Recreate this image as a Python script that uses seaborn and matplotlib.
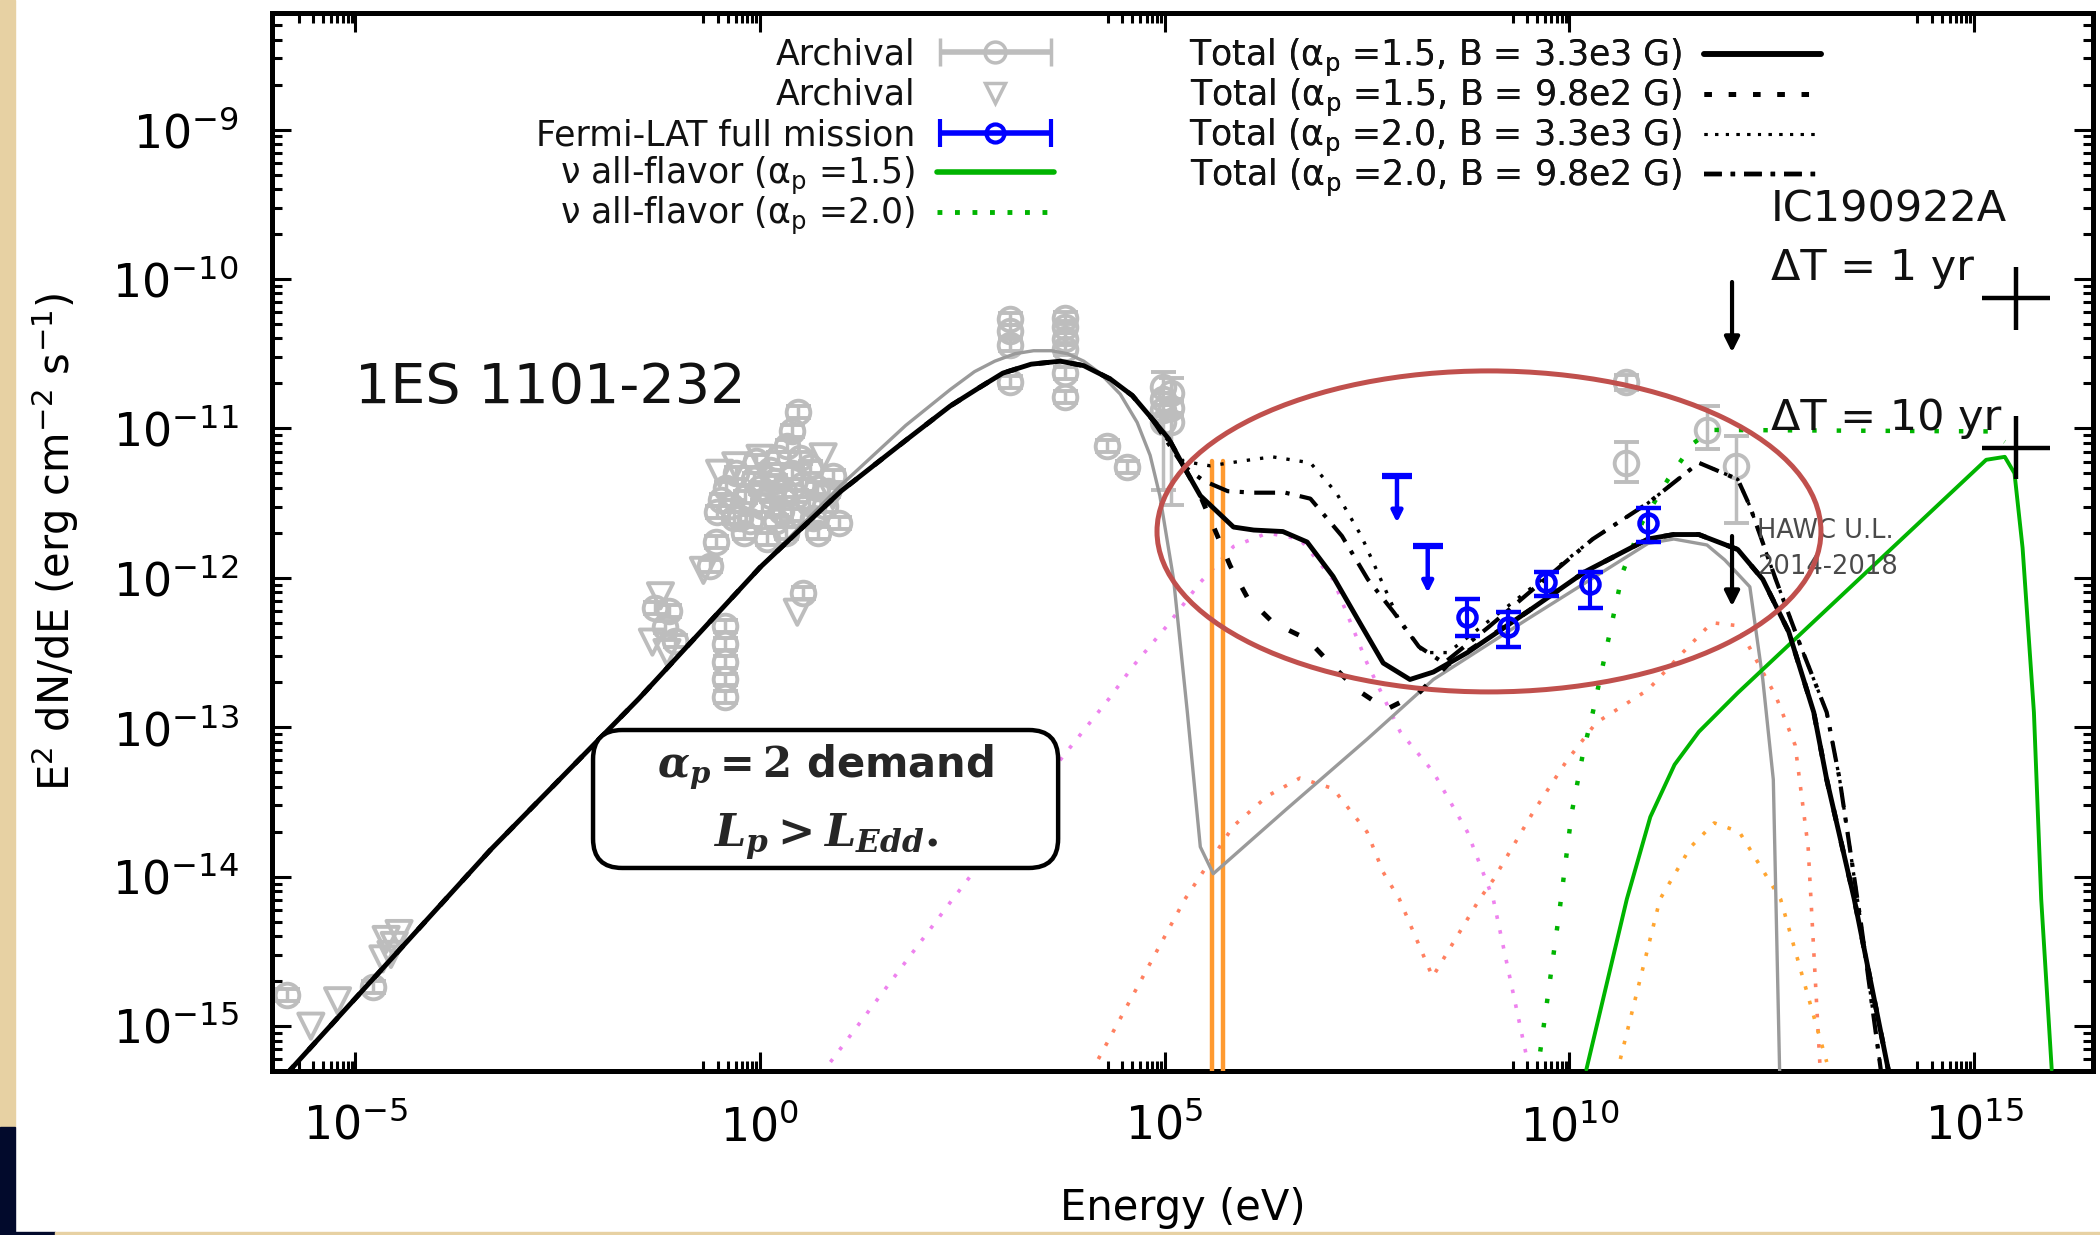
import numpy as np
import matplotlib
matplotlib.use("Agg")
import matplotlib.pyplot as plt
import seaborn as sns
from matplotlib import ticker
from matplotlib.patches import Ellipse, FancyBboxPatch, Rectangle
from matplotlib.lines import Line2D
from matplotlib.legend_handler import HandlerErrorbar
from matplotlib.container import ErrorbarContainer

# ---------------- data: log10 E [eV] and log10 E^2 dN/dE [erg cm^-2 s^-1] ----------------
tot15_B33_logE = [-5.85, -3.33, -1.5, 0.0, 1.0, 1.8, 2.35, 2.7, 3.0, 3.35, 3.71, 4.0, 4.33, 4.6, 4.82,
                  5.05, 5.23, 5.44, 5.85, 6.1, 6.46, 6.76, 7.08, 7.41, 7.70, 8.03, 8.32, 8.74, 9.5,
                  10.19, 10.97, 11.29, 11.6, 12.08, 12.39, 12.71, 13.02, 13.18, 13.52, 13.94]
tot15_B33_logF = [-15.32, -13.82, -12.81, -11.93, -11.42, -11.08, -10.85, -10.73, -10.63, -10.57, -10.55,
                  -10.58, -10.67, -10.78, -10.92, -11.07, -11.25, -11.45, -11.66, -11.68, -11.69, -11.76,
                  -11.99, -12.30, -12.57, -12.68, -12.63, -12.50, -12.22, -11.96, -11.74, -11.71, -11.71,
                  -11.81, -12.01, -12.36, -12.90, -13.35, -14.15, -15.29]

tot15_B98_logE = [-5.85, -3.33, -1.5, 0.0, 1.0, 1.8, 2.35, 2.7, 3.0, 3.35, 3.71, 4.0, 4.33, 4.6, 4.82,
                  5.05, 5.23, 5.44, 5.81, 6.02, 6.34, 6.76, 7.04, 7.38, 7.74, 8.14, 8.5, 9.5, 10.19,
                  10.97, 11.29, 11.6, 12.08, 12.39, 12.71, 13.02, 13.18, 13.52, 13.94]
tot15_B98_logF = [-15.32, -13.82, -12.81, -11.93, -11.42, -11.08, -10.85, -10.73, -10.63, -10.57, -10.55,
                  -10.58, -10.67, -10.78, -10.92, -11.07, -11.25, -11.45, -11.92, -12.13, -12.30, -12.41,
                  -12.57, -12.75, -12.88, -12.77, -12.58, -12.22, -11.96, -11.74, -11.71, -11.71, -11.81,
                  -12.01, -12.36, -12.90, -13.35, -14.15, -15.29]

tot20_B33_logE = [4.82, 5.23, 5.56, 6.06, 6.33, 6.80, 7.12, 7.43, 7.67, 7.91, 8.2, 8.5, 9.0, 9.5,
                  10.29, 10.97, 11.6, 12.08, 12.23, 12.55, 12.86, 13.18, 13.34, 13.6, 13.85]
tot20_B33_logF = [-10.92, -11.22, -11.25, -11.21, -11.19, -11.23, -11.43, -11.72, -12.01, -12.30, -12.50,
                  -12.50, -12.29, -12.08, -11.74, -11.50, -11.23, -11.34, -11.52, -12.01, -12.46, -12.90,
                  -13.35, -14.30, -15.30]

tot20_B98_logE = [4.82, 5.23, 5.48, 5.78, 6.1, 6.49, 6.80, 7.19, 7.51, 7.83, 8.14, 8.45, 9.0, 9.5,
                  10.29, 10.97, 11.6, 12.08, 12.23, 12.55, 12.86, 13.18, 13.34, 13.6, 13.85]
tot20_B98_logF = [-10.92, -11.25, -11.35, -11.42, -11.43, -11.43, -11.47, -11.72, -12.01, -12.23, -12.46,
                  -12.57, -12.33, -12.10, -11.74, -11.50, -11.23, -11.34, -11.52, -12.01, -12.46, -12.90,
                  -13.35, -14.30, -15.30]

gray_logE = [-5.85, -3.33, -1.5, 0.0, 1.0, 1.8, 2.35, 2.65, 2.9, 3.15, 3.38, 3.6, 3.8, 4.0, 4.2, 4.45,
             4.66, 4.82, 4.94, 5.11, 5.28, 5.44, 5.6, 6.5, 7.5, 8.32, 9.5, 10.5, 10.97, 11.29, 11.7,
             11.92, 12.23, 12.39, 12.52, 12.6]
gray_logF = [-15.32, -13.82, -12.81, -11.93, -11.38, -10.98, -10.74, -10.62, -10.55, -10.50, -10.48,
             -10.48, -10.50, -10.55, -10.63, -10.77, -10.96, -11.18, -11.45, -12.01, -12.90, -13.80,
             -13.98, -13.55, -13.08, -12.68, -12.27, -11.93, -11.77, -11.74, -11.78, -11.88, -12.06,
             -12.68, -13.35, -15.35]

violet_logE = [0.87, 2.38, 3.75, 4.31, 4.61, 5.03, 5.44, 5.85, 6.27, 6.67, 7.08, 7.50, 7.91, 8.32, 8.74,
               9.06, 9.47]
violet_logF = [-15.24, -14.15, -13.19, -12.81, -12.59, -12.32, -12.03, -11.79, -11.70, -11.74, -12.01,
               -12.57, -13.03, -13.30, -13.70, -14.15, -15.20]

coral_logE = [4.18, 5.25, 5.85, 6.27, 6.67, 7.08, 7.50, 7.70, 7.90, 8.31, 8.89, 9.06, 9.55, 9.96, 10.33,
              10.97, 11.4, 11.76, 12.08, 12.55, 12.79, 12.95, 13.1]
coral_logF = [-15.22, -14.15, -13.66, -13.46, -13.34, -13.41, -13.70, -13.97, -14.15, -14.67, -14.15,
              -14.02, -13.57, -13.23, -12.97, -12.75, -12.50, -12.30, -12.32, -12.79, -13.12, -13.80,
              -15.30]

orange_logE = [10.63, 11.12, 11.5, 11.79, 12.1, 12.61, 13.18]
orange_logF = [-15.22, -14.15, -13.80, -13.64, -13.70, -14.15, -15.24]

spike_logE = [5.59, 5.72]
spike_top_logF = -11.22
spike_bot_logF = -15.4

nu15_logE = [10.21, 10.71, 11.0, 11.3, 11.6, 12.08, 15.15, 15.38, 15.5, 15.6, 15.74, 15.83, 15.96]
nu15_logF = [-15.29, -14.15, -13.60, -13.25, -13.03, -12.77, -11.21, -11.19, -11.30, -11.80, -12.90,
             -14.15, -15.29]

nu20_logE = [9.64, 9.88, 10.03, 10.17, 10.29, 10.66, 10.90, 11.22, 11.53, 11.76, 15.2, 15.38]
nu20_logF = [-15.17, -14.22, -13.57, -13.17, -12.90, -11.96, -11.63, -11.34, -11.10, -11.01, -11.02, -11.09]

# archival data (circles): log E, log F, lower / upper error (dex)
arch_logE = [-5.84, -4.78, -1.30, -1.18, -1.05, -1.12, -0.43, -0.43, -0.43, -0.43, -0.43, -0.62, -0.55,
             -0.53, -0.42, -0.30, -0.18, -0.08, 0.02, 0.12, 0.22, 0.30, 0.40, 0.47, 0.40, 0.33, 0.60,
             0.70, 0.80, 0.97, 0.90, 0.20, 0.08, 0.32, 0.53, -0.20, 0.50, 0.62, -0.32, 0.72,
             -0.48, -0.36, -0.25, -0.12, 0.00, 0.14, 0.26, 0.38, 0.52, 0.66, 0.84, -0.05, 0.18, 0.44,
             3.09, 3.09, 3.09, 3.09, 3.77, 3.77, 3.77, 3.77, 3.77, 3.77, 4.29, 4.54,
             4.98, 4.98, 4.98, 4.98, 5.08, 5.08, 5.08, 10.70, 10.70, 11.70, 12.06]
arch_logF = [-14.79, -14.74, -12.20, -12.33, -12.42, -12.22, -12.32, -12.44, -12.56, -12.68, -12.80,
             -11.92, -11.76, -11.56, -11.40, -11.30, -11.46, -11.34, -11.52, -11.28, -11.20, -11.42,
             -11.30, -10.89, -11.02, -11.12, -11.50, -11.40, -11.52, -11.63, -11.32, -11.62, -11.74,
             -11.70, -12.10, -11.70, -11.20, -11.26, -11.60, -11.70,
             -11.48, -11.52, -11.60, -11.62, -11.40, -11.45, -11.55, -11.58, -11.38, -11.60, -11.42,
             -11.22, -11.35, -11.45,
             -10.27, -10.35, -10.44, -10.69, -10.26, -10.32, -10.40, -10.47, -10.63, -10.79, -11.12,
             -11.26, -10.72, -10.80, -10.88, -10.96, -10.76, -10.86, -10.96, -10.69, -11.23, -11.01,
             -11.25]
arch_dlo = [0.04] * 66 + [0.04, 0.04, 0.04, 0.45, 0.04, 0.04, 0.55, 0.05, 0.13, 0.13, 0.38]
arch_dhi = [0.04] * 66 + [0.10, 0.04, 0.04, 0.04, 0.10, 0.04, 0.04, 0.05, 0.14, 0.16, 0.20]

# archival data (triangles)
tri_logE = [-5.55, -5.22, -4.62, -4.52, -4.56, -4.66, -4.46, -1.23, -1.33, -1.15, 0.78, 0.46, -0.50, 0.00,
            -0.30, 0.90, -0.70]
tri_logF = [-15.00, -14.83, -14.42, -14.46, -14.52, -14.55, -14.38, -12.12, -12.43, -12.50, -11.19, -12.23,
            -11.30, -11.20, -11.25, -11.45, -11.95]

# Fermi-LAT full mission
fermi_logE = [8.74, 9.24, 9.71, 10.25, 10.97]
fermi_logF = [-12.26, -12.33, -12.03, -12.04, -11.63]
fermi_lo = [-12.39, -12.46, -12.12, -12.20, -11.76]
fermi_hi = [-12.14, -12.23, -11.96, -11.96, -11.53]
ul_logE = [7.87, 8.25]
ul_top = [-11.32, -11.79]
ul_tip = [-11.63, -12.10]

# HAWC upper limits
hawc_logE = [12.01, 12.01]
hawc_top = [-10.02, -11.72]
hawc_tip = [-10.49, -12.19]

# IC190922A sensitivity crosses (dT = 1 yr, 10 yr)
sens_logE = [15.52, 15.52]
sens_logF = [-10.13, -11.13]
sens_dx = 0.42
sens_dy = 0.21

x_major = [-5, 0, 5, 10, 15]

# ---------------- style ----------------
sns.set_theme(style="white")
plt.rcParams['font.family'] = ['DejaVu Sans']
plt.rcParams['mathtext.fontset'] = 'dejavusans'
plt.rcParams['mathtext.rm'] = 'DejaVu Serif:bold'
plt.rcParams['mathtext.it'] = 'DejaVu Serif:italic:bold'
plt.rcParams['mathtext.bf'] = 'DejaVu Serif:bold'
plt.rcParams['axes.unicode_minus'] = True

BLACK = '#000000'
GRAYLINE = '#9a9a9a'
GRAYPT = '#bdbdbd'
BLUE = '#0000ff'
GREEN = '#00b400'
VIOLET = '#ee82ee'
CORAL = '#ff8060'
ORANGE = '#ffa530'
SPIKE = '#ff9a30'
TXT = '#111111'

fig = plt.figure(figsize=(21, 12.35), dpi=100)
fig.patch.set_facecolor('white')
# slide background strips
fig.add_artist(Rectangle((0, 0.0874), 15 / 2100, 1 - 0.0874, transform=fig.transFigure,
                         color='#e7d1a3', zorder=-5))
fig.add_artist(Rectangle((0, 0), 15 / 2100, 0.0874, transform=fig.transFigure,
                         color='#020a2c', zorder=-5))
fig.add_artist(Rectangle((15 / 2100, 0), 40 / 2100, 3 / 1235, transform=fig.transFigure,
                         color='#020a2c', zorder=-5))
fig.add_artist(Rectangle((55 / 2100, 0), 1 - 55 / 2100, 3 / 1235, transform=fig.transFigure,
                         color='#e7d1a3', zorder=-5))

ax = fig.add_axes([272 / 2100, 164 / 1235, 1821 / 2100, 1058 / 1235])
ax.set_facecolor('white')
ax.set_xscale('log')
ax.set_yscale('log')


def P(v):
    return 10.0 ** np.asarray(v, dtype=float)


def curve(logE, logF, **kw):
    sns.lineplot(x=P(logE), y=P(logF), ax=ax, sort=False, estimator=None, legend=False, **kw)


# archival points
arch_y = P(arch_logF)
ax.errorbar(P(arch_logE), arch_y,
            yerr=[arch_y - P(np.array(arch_logF) - np.array(arch_dlo)),
                  P(np.array(arch_logF) + np.array(arch_dhi)) - arch_y],
            fmt='o', mfc='none', mec=GRAYPT, ms=17, mew=2.8, ecolor=GRAYPT, elinewidth=2.5,
            capsize=9, capthick=2.5, zorder=2)
sns.scatterplot(x=P(tri_logE), y=P(tri_logF), ax=ax, marker='v', s=330, facecolor='none',
                edgecolor=GRAYPT, linewidth=2.8, zorder=2, legend=False)

# component curves
dots = (0, (1.0, 3.2))
curve(violet_logE, violet_logF, color=VIOLET, linewidth=2.6, linestyle=dots, zorder=3)
curve(coral_logE, coral_logF, color=CORAL, linewidth=2.6, linestyle=dots, zorder=3)
curve(orange_logE, orange_logF, color=ORANGE, linewidth=2.6, linestyle=dots, zorder=3)
for xs in spike_logE:
    curve([xs, xs], [spike_bot_logF, spike_top_logF], color=SPIKE, linewidth=3.2, zorder=3)
curve(gray_logE, gray_logF, color=GRAYLINE, linewidth=2.4, zorder=3)
curve(nu20_logE, nu20_logF, color=GREEN, linewidth=3.2, linestyle=(0, (1.0, 4.5)), zorder=4)
curve(nu15_logE, nu15_logF, color=GREEN, linewidth=2.8, zorder=4)
curve(tot20_B33_logE, tot20_B33_logF, color=BLACK, linewidth=2.4, linestyle=(0, (1.0, 3.0)), zorder=4)
curve(tot20_B98_logE, tot20_B98_logF, color=BLACK, linewidth=3.0, linestyle=(0, (5, 2.5, 1, 2.5)), zorder=4)
curve(tot15_B98_logE, tot15_B98_logF, color=BLACK, linewidth=3.5, linestyle=(0, (2.2, 4.5)), zorder=4)
curve(tot15_B33_logE, tot15_B33_logF, color=BLACK, linewidth=3.5, zorder=5)

# Fermi-LAT
fy = P(fermi_logF)
ax.errorbar(P(fermi_logE), fy, yerr=[fy - P(fermi_lo), P(fermi_hi) - fy], fmt='o', mfc='none',
            mec=BLUE, ms=13, mew=3.2, ecolor=BLUE, elinewidth=3, capsize=9, capthick=3, zorder=6)
ax.plot(P(ul_logE), P(ul_top), ls='none', marker='_', ms=22, mew=4.5, color=BLUE, zorder=6)
for xe, yt, yb in zip(ul_logE, ul_top, ul_tip):
    ax.annotate('', xy=(P(xe), P(yb)), xytext=(P(xe), P(yt)),
                arrowprops=dict(arrowstyle='-|>', color=BLUE, lw=3.2, mutation_scale=16,
                                shrinkA=0, shrinkB=0), zorder=6)
# HAWC
for xe, yt, yb in zip(hawc_logE, hawc_top, hawc_tip):
    ax.annotate('', xy=(P(xe), P(yb)), xytext=(P(xe), P(yt)),
                arrowprops=dict(arrowstyle='-|>', color=BLACK, lw=3, mutation_scale=22,
                                shrinkA=0, shrinkB=0), zorder=6)
# sensitivity crosses
sx = P(sens_logE)
sy = P(sens_logF)
ax.errorbar(sx, sy, xerr=[sx - sx / 10 ** sens_dx, sx * 10 ** sens_dx - sx],
            yerr=[sy - sy / 10 ** sens_dy, sy * 10 ** sens_dy - sy],
            fmt='none', ecolor=BLACK, elinewidth=3.2, zorder=6)

# ---------------- axes ----------------
ax.set_xlim(10 ** -6.03, 10 ** 16.47)
ax.set_ylim(10 ** -15.3, 10 ** -8.22)
ax.xaxis.set_major_locator(ticker.FixedLocator(P(x_major)))
ax.xaxis.set_major_formatter(ticker.LogFormatterMathtext())
ax.xaxis.set_minor_locator(ticker.FixedLocator([k * 10.0 ** (m - 1) for m in x_major + [20]
                                                for k in range(2, 10)]))
ax.xaxis.set_minor_formatter(ticker.NullFormatter())
ax.yaxis.set_major_locator(ticker.LogLocator(base=10, numticks=30))
ax.yaxis.set_major_formatter(ticker.LogFormatterMathtext())
ax.yaxis.set_minor_locator(ticker.LogLocator(base=10, subs=np.arange(2, 10), numticks=60))
ax.yaxis.set_minor_formatter(ticker.NullFormatter())
ax.tick_params(which='both', direction='in', top=True, right=True, bottom=True, left=True,
               color=BLACK, width=2.2)
ax.tick_params(which='major', length=14, labelsize=33, labelcolor=BLACK)
ax.tick_params(axis='x', which='major', pad=24)
ax.tick_params(axis='y', which='major', pad=24)
ax.tick_params(which='minor', length=7)
for s in ax.spines.values():
    s.set_linewidth(3.6)
    s.set_color(BLACK)
ax.grid(False)

ax.set_xlabel('Energy (eV)', fontsize=30, color=BLACK)
ax.xaxis.set_label_coords(0.5, -0.1095)
ax.set_ylabel(r'E$^2$ dN/dE (erg cm$^{-2}$ s$^{-1}$)', fontsize=30, color=BLACK)
ax.yaxis.set_label_coords(-0.105, 0.5)

# ---------------- legends ----------------
LEGFS = 25
hmap = {ErrorbarContainer: HandlerErrorbar(xerr_size=1.6)}
h_arch = ax.errorbar([np.nan], [np.nan], xerr=[1.0], fmt='o', mfc='none', mec=GRAYPT, ms=15, mew=2.5,
                     ecolor=GRAYPT, color=GRAYPT, elinewidth=4, capsize=10, capthick=2.5)
h_tri = Line2D([], [], ls='none', marker='v', mfc='none', mec=GRAYPT, ms=14, mew=2.5)
h_fermi = ax.errorbar([np.nan], [np.nan], xerr=[1.0], fmt='o', mfc='none', mec=BLUE, ms=13, mew=3,
                      ecolor=BLUE, color=BLUE, elinewidth=4, capsize=10, capthick=3)
h_nu15 = Line2D([], [], color=GREEN, lw=4)
h_nu20 = Line2D([], [], color=GREEN, lw=3.5, ls=(0, (1.0, 2.6)))
leg_kw = dict(loc='upper right', frameon=False, markerfirst=False, fontsize=LEGFS, handlelength=3.37,
              handletextpad=0.62, borderpad=0, borderaxespad=0, handler_map=hmap)


def finish(leg):
    for t in leg.get_texts():
        t.set_color(TXT)
    ax.add_artist(leg)


leg1a = ax.legend([h_arch, h_tri, h_fermi], ['Archival', 'Archival', 'Fermi-LAT full mission'],
                  bbox_to_anchor=(0.4294, 0.977), labelspacing=0.19, **leg_kw)
finish(leg1a)
leg1b = ax.legend([h_nu15, h_nu20],
                  [r'ν all-flavor (α$_\mathregular{p}$ =1.5)', r'ν all-flavor (α$_\mathregular{p}$ =2.0)'],
                  bbox_to_anchor=(0.4294, 0.8657), labelspacing=-0.06, **leg_kw)
finish(leg1b)
h_t1 = Line2D([], [], color=BLACK, lw=4)
h_t2 = Line2D([], [], color=BLACK, lw=3.5, ls=(0, (1.5, 3.5)))
h_t3 = Line2D([], [], color=BLACK, lw=2.2, ls=(0, (1.0, 2.5)))
h_t4 = Line2D([], [], color=BLACK, lw=3.2, ls=(0, (4, 2, 1, 2)))
leg2 = ax.legend([h_t1, h_t2, h_t3, h_t4],
                 [r'Total (α$_\mathregular{p}$ =1.5, B = 3.3e3 G)', r'Total (α$_\mathregular{p}$ =1.5, B = 9.8e2 G)',
                  r'Total (α$_\mathregular{p}$ =2.0, B = 3.3e3 G)', r'Total (α$_\mathregular{p}$ =2.0, B = 9.8e2 G)'],
                 bbox_to_anchor=(0.8506, 0.977), labelspacing=-0.06, **leg_kw)
finish(leg2)

# ---------------- annotations ----------------
ax.text(0.0456, 0.6456, '1ES 1101-232', transform=ax.transAxes, fontsize=40, color=TXT,
        ha='left', va='center', zorder=8)
ax.text(0.8232, 0.8138, 'IC190922A', transform=ax.transAxes, fontsize=31, color=TXT,
        ha='left', va='center', zorder=8)
ax.text(0.8232, 0.759, 'ΔT = 1 yr', transform=ax.transAxes, fontsize=31, color=TXT,
        ha='left', va='center', zorder=8)
ax.text(0.8232, 0.617, 'ΔT = 10 yr', transform=ax.transAxes, fontsize=31, color=TXT,
        ha='left', va='center', zorder=8)
ax.text(0.8155, 0.5104, 'HAWC U.L.', transform=ax.transAxes, fontsize=18.5, color='#4a4a4a',
        ha='left', va='center', zorder=8)
ax.text(0.8155, 0.4764, '2014-2018', transform=ax.transAxes, fontsize=18.5, color='#4a4a4a',
        ha='left', va='center', zorder=8)

ax.add_patch(Ellipse((0.6683, 0.510), 0.3646, 0.3034, transform=ax.transAxes, fill=False,
                     edgecolor='#c0504d', linewidth=3.6, zorder=9))

ax.add_patch(FancyBboxPatch((0.1763, 0.1919), 0.2554, 0.1304, transform=ax.transAxes,
                            boxstyle='round,pad=0,rounding_size=0.016', mutation_aspect=1821 / 1058,
                            facecolor='white', edgecolor=BLACK, linewidth=3.2, zorder=10))
ax.text(0.3042, 0.2873, r'$\alpha_p = 2$ demand', transform=ax.transAxes, fontsize=30,
        fontweight='bold', math_fontfamily='custom', ha='center', va='center', zorder=11)
ax.text(0.3042, 0.2212, r'$L_p > L_{Edd}.$', transform=ax.transAxes, fontsize=32,
        math_fontfamily='custom', ha='center', va='center', zorder=11)

fig.savefig('out.png', dpi=100, facecolor=fig.get_facecolor())
